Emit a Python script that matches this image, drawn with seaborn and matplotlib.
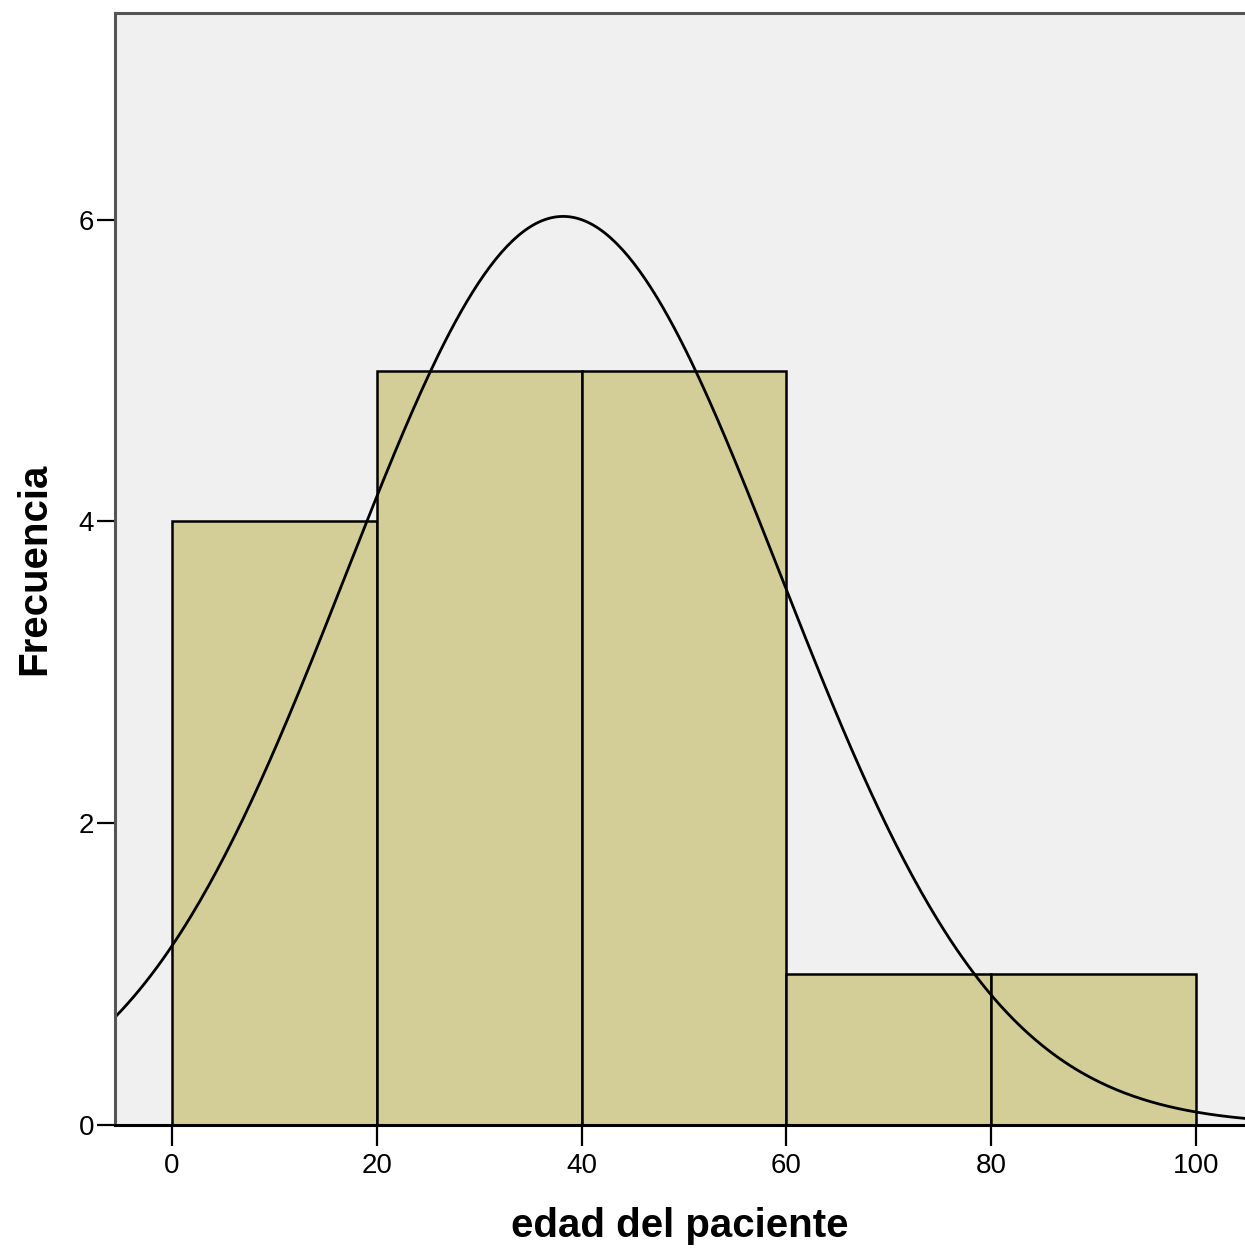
import numpy as np
import matplotlib
matplotlib.use("Agg")
import matplotlib.pyplot as plt
import seaborn as sns

# histogram data
bin_edges = [0, 20, 40, 60, 80, 100]
bin_counts = [4, 5, 5, 1, 1]
x_ticks = [0, 20, 40, 60, 80, 100]
y_ticks = [0, 2, 4, 6]

# normal curve parameters (SPSS style overlay)
mean_age = 38.2
sd_age = 21.2

sns.set_style("white")
plt.rcParams['font.family'] = ['Liberation Sans', 'DejaVu Sans']
plt.rcParams['text.color'] = 'black'
plt.rcParams['axes.labelcolor'] = 'black'
plt.rcParams['xtick.color'] = 'black'
plt.rcParams['ytick.color'] = 'black'

fig = plt.figure(figsize=(12.45, 12.49), dpi=100)
ax = fig.add_axes([0.0924, 0.0993, 0.9076, 0.8903])
ax.set_facecolor("#F0F0F0")

centers = [(a + b) / 2 for a, b in zip(bin_edges[:-1], bin_edges[1:])]
sns.histplot(x=centers, weights=bin_counts, bins=bin_edges, ax=ax,
             color="#D3CE97", alpha=1.0, edgecolor="black", linewidth=1.8)

# normal curve scaled to counts
n = sum(bin_counts)
width = bin_edges[1] - bin_edges[0]
xs = np.linspace(-6, 106, 400)
ys = n * width / (sd_age * np.sqrt(2 * np.pi)) * np.exp(-(xs - mean_age) ** 2 / (2 * sd_age ** 2))
sns.lineplot(x=xs, y=ys, ax=ax, color="black", linewidth=2.0)

ax.set_xlim(-5.57, 104.8)
ax.set_ylim(0, 7.37)
ax.set_xticks(x_ticks)
ax.set_yticks(y_ticks)
ax.tick_params(axis="both", direction="out", width=1.6, color="black",
               labelsize=20, bottom=True, left=True)
ax.tick_params(axis="x", length=15, pad=5)
ax.tick_params(axis="y", length=13, pad=2)

for side in ["left", "top"]:
    ax.spines[side].set_color("#555555")
    ax.spines[side].set_linewidth(2.2)
ax.spines["bottom"].set_color("black")
ax.spines["bottom"].set_linewidth(2.2)
ax.spines["right"].set_visible(False)

ax.set_xlabel("edad del paciente", fontsize=29, fontweight="bold", labelpad=20)
ax.set_ylabel("Frecuencia", fontsize=29, fontweight="bold", labelpad=18)

fig.savefig("out.png", dpi=100, facecolor="white")
